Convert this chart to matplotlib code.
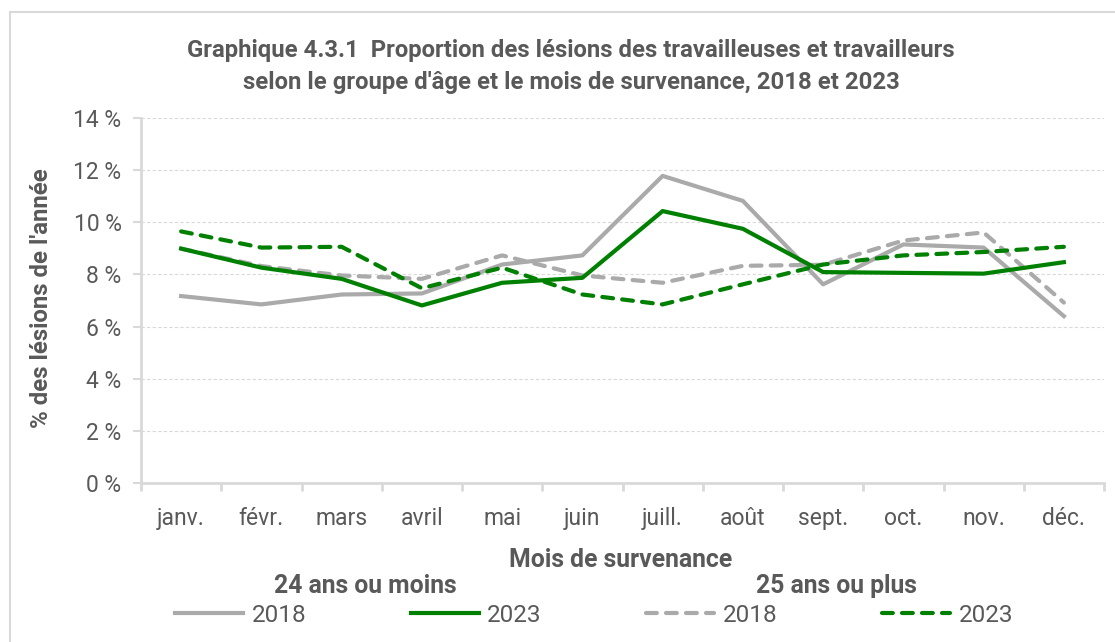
import matplotlib
matplotlib.use('Agg')
import matplotlib.pyplot as plt
from matplotlib.patches import Rectangle
from matplotlib.ticker import FuncFormatter

plt.rcParams['font.family'] = ['Roboto', 'DejaVu Sans']

# data (% of the year's injuries)
months = ['janv.', 'févr.', 'mars', 'avril', 'mai', 'juin',
          'juill.', 'août', 'sept.', 'oct.', 'nov.', 'déc.']
young_2018 = [7.17, 6.85, 7.23, 7.27, 8.38, 8.73, 11.78, 10.82, 7.62, 9.15, 9.03, 6.40]
young_2023 = [8.99, 8.26, 7.83, 6.81, 7.68, 7.87, 10.43, 9.75, 8.09, 8.06, 8.03, 8.47]
older_2018 = [8.99, 8.32, 7.96, 7.83, 8.73, 7.96, 7.68, 8.33, 8.37, 9.30, 9.61, 6.92]
older_2023 = [9.65, 9.03, 9.06, 7.47, 8.26, 7.23, 6.85, 7.62, 8.38, 8.73, 8.86, 9.06]

GREY = '#aaaaaa'
GREEN = '#008000'
TXT = '#595959'
AXC = '#d9d9d9'

W, H = 1115, 642
fig = plt.figure(figsize=(W / 100, H / 100), dpi=100)
ax = fig.add_axes([141/W, 1-483/H, (1104-141)/W, (483-118)/H])

x = list(range(len(months)))
dash = (0, (2.6, 2.2))
l1, = ax.plot(x, young_2018, color=GREY, lw=3, zorder=3)
l3, = ax.plot(x, older_2018, color=GREY, lw=3, linestyle=dash, dash_capstyle='round', zorder=4)
l4, = ax.plot(x, older_2023, color=GREEN, lw=3, linestyle=dash, dash_capstyle='round', zorder=5)
l2, = ax.plot(x, young_2023, color=GREEN, lw=3, zorder=6)

ax.set_xlim(-0.5, len(months) - 0.5)
ax.set_ylim(0, 14)
ax.set_yticks(range(0, 15, 2))
ax.yaxis.set_major_formatter(FuncFormatter(lambda v, p: f'{v:.0f} %'))
ax.set_xticks(x)
ax.set_xticklabels(months)
# category boundary ticks like in Excel
ax.set_xticks([i - 0.5 for i in range(len(months) + 1)], minor=True)

ax.grid(axis='y', color=AXC, linestyle=(0, (3, 2)), linewidth=0.8)
ax.set_axisbelow(True)
for s in ['top', 'right']:
    ax.spines[s].set_visible(False)
for s in ['left', 'bottom']:
    ax.spines[s].set_color(AXC)
    ax.spines[s].set_linewidth(2)

ax.tick_params(axis='x', which='major', length=0, pad=17, labelsize=16.5, labelcolor=TXT)
ax.tick_params(axis='x', which='minor', length=6, width=2, color=AXC)
ax.tick_params(axis='y', length=6, width=1.5, color=AXC, pad=8, labelsize=16.5, labelcolor=TXT)

fig.text(42/W, 1-298/H, "% des lésions de l'année", rotation=90, ha='center', va='center',
         fontsize=17.3, fontweight='bold', color=TXT)

# title
fig.text(571/W, 1-50/H, 'Graphique 4.3.1  Proportion des lésions des travailleuses et travailleurs',
         ha='center', va='center', fontsize=17.2, fontweight='bold', color=TXT)
fig.text(571/W, 1-83/H, "selon le groupe d'âge et le mois de survenance, 2018 et 2023",
         ha='center', va='center', fontsize=17.2, fontweight='bold', color=TXT)

# axis title and legend headings
fig.text(621/W, 1-560/H, 'Mois de survenance', ha='center', va='center',
         fontsize=17.8, fontweight='bold', color=TXT)
fig.text(365/W, 1-586/H, '24 ans ou moins', ha='center', va='center',
         fontsize=17.8, fontweight='bold', color=TXT)
fig.text(836/W, 1-586/H, '25 ans ou plus', ha='center', va='center',
         fontsize=17.8, fontweight='bold', color=TXT)

leg = fig.legend([l1, l2, l3, l4], ['2018', '2023', '2018', '2023'], ncol=4,
                 loc='center', bbox_to_anchor=(594/W, 1-615/H), frameon=False,
                 fontsize=17.5, handlelength=2.8, handletextpad=0.35, columnspacing=4.3,
                 borderpad=0, borderaxespad=0)
for t in leg.get_texts():
    t.set_color(TXT)

# outer chart frame
fig.patches.append(Rectangle((9.5/W, -0.1), 1.2, 1 - 11.5/H + 0.1, transform=fig.transFigure,
                             fill=False, edgecolor=AXC, linewidth=1.5))

fig.savefig('out.png', dpi=100)
